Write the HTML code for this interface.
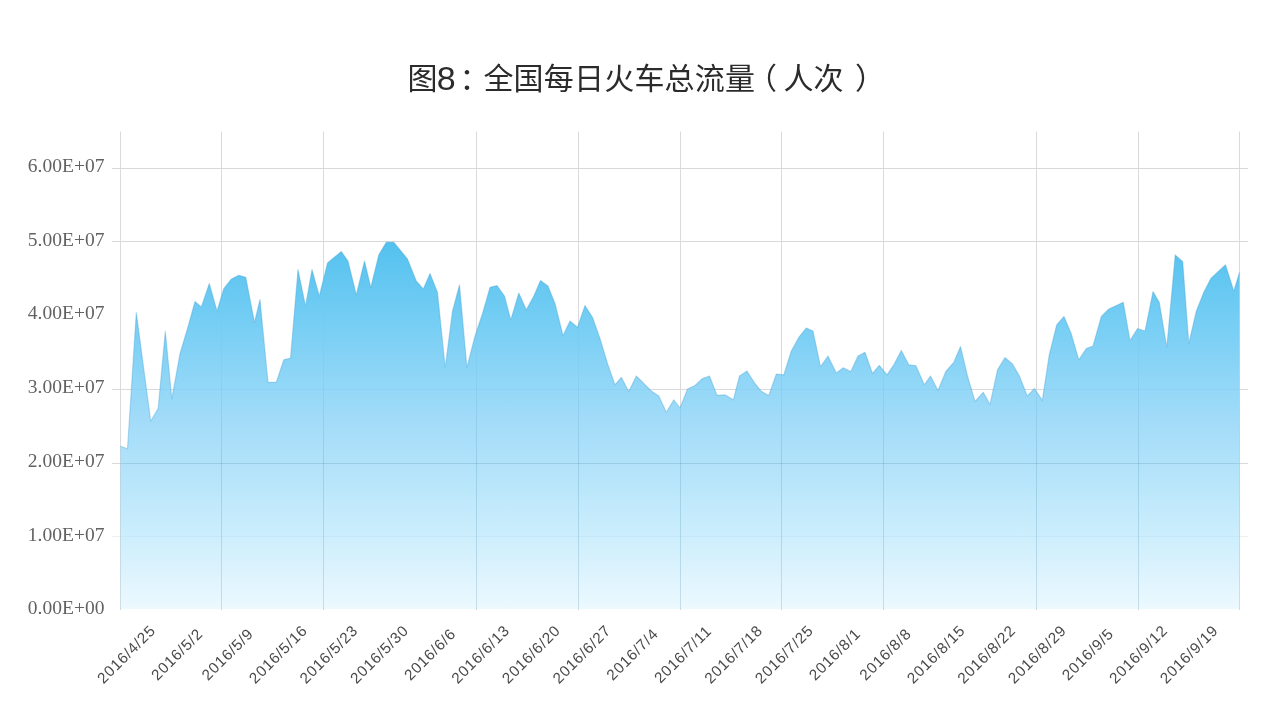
<!DOCTYPE html>
<html lang="zh-CN"><head><meta charset="utf-8"><title>图8：全国每日火车总流量（人次）</title>
<style>
html,body{margin:0;padding:0;background:#fff;}
body{width:1280px;height:720px;overflow:hidden;position:relative;}
svg{position:absolute;left:0;top:0;display:block;}
.title{font-family:"Liberation Sans","Noto Sans CJK SC",sans-serif;font-size:30px;fill:#2b2b2b;}
.t8{font-family:"Liberation Sans",sans-serif;font-size:34px;fill:#2b2b2b;}
.yl{font-family:"Liberation Serif",serif;font-size:19.5px;fill:#626262;text-anchor:end;}
.xl{font-family:"Liberation Sans",sans-serif;font-size:15.3px;letter-spacing:0.75px;fill:#4a4a4a;text-anchor:middle;}
.g{stroke:#dadada;stroke-width:1;fill:none;}
</style></head><body>
<svg width="1280" height="720" viewBox="0 0 1280 720">
<defs>
<linearGradient id="ag" gradientUnits="userSpaceOnUse" x1="0" y1="241" x2="0" y2="609.5">
<stop offset="0" stop-color="#53c1ee"/>
<stop offset="0.2225" stop-color="#76cef4"/>
<stop offset="0.494" stop-color="#a3dcf9"/>
<stop offset="0.765" stop-color="#c7ecfc"/>
<stop offset="0.955" stop-color="#e5f6fe"/>
<stop offset="1" stop-color="#edf9fe"/>
</linearGradient>
<linearGradient id="lg" gradientUnits="userSpaceOnUse" x1="0" y1="290" x2="0" y2="610">
<stop offset="0" stop-color="#005078" stop-opacity="0"/>
<stop offset="0.28" stop-color="#005078" stop-opacity="0.05"/>
<stop offset="0.53" stop-color="#005078" stop-opacity="0.14"/>
<stop offset="1" stop-color="#005078" stop-opacity="0.16"/>
</linearGradient>
<clipPath id="ac"><path d="M120.5,609.0 L120.5,446.3 127.5,448.8 136.3,312.5 150.7,421.2 158.2,408.2 165.3,331.3 171.8,398.8 180.0,353.5 187.5,328.5 195.0,301.5 201.3,307.0 209.3,283.5 217.0,311.0 223.8,288.5 231.3,279.0 238.8,275.3 245.8,277.3 254.5,322.3 260.0,299.5 268.0,382.3 276.3,382.3 283.8,359.8 290.5,358.0 298.0,269.5 305.5,306.0 312.0,269.5 319.3,296.0 327.5,263.0 334.3,257.3 341.3,251.5 348.0,261.0 356.3,294.8 364.5,261.0 370.8,287.3 378.8,254.8 386.3,242.3 393.8,242.3 400.0,249.8 407.5,259.0 416.3,281.0 423.3,289.0 430.0,273.5 437.5,292.3 445.2,367.4 452.5,311.0 459.5,284.8 466.9,367.4 475.0,336.0 482.5,313.5 490.0,287.3 497.0,285.5 504.5,296.0 510.8,319.8 518.8,293.0 526.3,309.8 533.8,296.0 540.5,280.5 548.0,286.0 555.0,303.5 563.0,335.5 570.0,321.0 577.5,327.3 585.0,305.5 592.5,317.3 600.0,338.5 607.5,363.5 615.0,384.8 621.3,377.3 628.8,391.5 636.3,376.0 643.8,383.5 651.3,391.0 658.8,396.0 666.3,412.3 673.8,399.8 680.0,408.0 687.5,389.0 695.0,385.5 702.5,378.5 709.5,376.0 717.0,395.3 725.0,394.8 733.3,399.8 739.5,376.0 747.0,371.0 755.0,383.5 761.3,391.3 768.8,395.5 776.3,374.0 783.8,374.8 791.3,351.0 798.8,337.3 806.3,328.0 813.0,331.0 820.5,366.5 828.0,356.0 836.3,373.0 843.3,367.8 850.8,371.5 858.0,356.0 865.0,352.3 872.5,373.5 879.3,365.3 887.0,374.8 893.8,364.8 901.3,350.5 908.8,364.8 915.8,365.5 924.3,384.8 930.5,376.0 938.0,390.5 945.8,371.5 953.8,362.3 960.5,346.5 967.5,376.0 975.0,401.5 983.2,392.3 990.0,404.4 997.5,369.8 1005.0,357.5 1012.5,364.0 1019.2,375.5 1027.3,396.0 1034.5,388.5 1042.3,400.3 1049.2,355.0 1056.7,324.8 1064.0,316.5 1071.0,333.0 1078.8,359.8 1086.3,348.5 1093.0,346.0 1101.3,316.5 1108.8,309.0 1116.3,305.5 1123.3,302.3 1130.0,340.5 1137.5,328.5 1145.0,331.0 1153.0,291.5 1159.3,302.3 1166.8,347.3 1175.2,254.9 1182.7,261.6 1188.8,343.5 1196.3,311.0 1203.8,292.3 1210.8,278.5 1218.8,271.0 1225.5,264.8 1233.8,291.0 1239.5,272.3 L1239.5,609.0 Z"/></clipPath>
</defs>
<rect width="1280" height="720" fill="#ffffff"/>
<g class="g">
<line x1="112" y1="168.5" x2="1248" y2="168.5" stroke="#d8d8d8"/>
<line x1="112" y1="241.5" x2="1248" y2="241.5" stroke="#d8d8d8"/>
<line x1="112" y1="389.5" x2="1248" y2="389.5" stroke="#dadada"/>
<line x1="112" y1="463.5" x2="1248" y2="463.5" stroke="#dad8d8"/>
<line x1="112" y1="536.5" x2="1248" y2="536.5" stroke="#efefef"/>
<line x1="120.5" y1="131.5" x2="120.5" y2="610"/>
<line x1="221.5" y1="131.5" x2="221.5" y2="610"/>
<line x1="323.5" y1="131.5" x2="323.5" y2="610"/>
<line x1="476.5" y1="131.5" x2="476.5" y2="610"/>
<line x1="578.5" y1="131.5" x2="578.5" y2="610"/>
<line x1="680.5" y1="131.5" x2="680.5" y2="610"/>
<line x1="781.5" y1="131.5" x2="781.5" y2="610"/>
<line x1="883.5" y1="131.5" x2="883.5" y2="610"/>
<line x1="1036.5" y1="131.5" x2="1036.5" y2="610"/>
<line x1="1138.5" y1="131.5" x2="1138.5" y2="610"/>
<line x1="1239.5" y1="131.5" x2="1239.5" y2="610"/>
</g>
<path d="M120.5,609.0 L120.5,446.3 127.5,448.8 136.3,312.5 150.7,421.2 158.2,408.2 165.3,331.3 171.8,398.8 180.0,353.5 187.5,328.5 195.0,301.5 201.3,307.0 209.3,283.5 217.0,311.0 223.8,288.5 231.3,279.0 238.8,275.3 245.8,277.3 254.5,322.3 260.0,299.5 268.0,382.3 276.3,382.3 283.8,359.8 290.5,358.0 298.0,269.5 305.5,306.0 312.0,269.5 319.3,296.0 327.5,263.0 334.3,257.3 341.3,251.5 348.0,261.0 356.3,294.8 364.5,261.0 370.8,287.3 378.8,254.8 386.3,242.3 393.8,242.3 400.0,249.8 407.5,259.0 416.3,281.0 423.3,289.0 430.0,273.5 437.5,292.3 445.2,367.4 452.5,311.0 459.5,284.8 466.9,367.4 475.0,336.0 482.5,313.5 490.0,287.3 497.0,285.5 504.5,296.0 510.8,319.8 518.8,293.0 526.3,309.8 533.8,296.0 540.5,280.5 548.0,286.0 555.0,303.5 563.0,335.5 570.0,321.0 577.5,327.3 585.0,305.5 592.5,317.3 600.0,338.5 607.5,363.5 615.0,384.8 621.3,377.3 628.8,391.5 636.3,376.0 643.8,383.5 651.3,391.0 658.8,396.0 666.3,412.3 673.8,399.8 680.0,408.0 687.5,389.0 695.0,385.5 702.5,378.5 709.5,376.0 717.0,395.3 725.0,394.8 733.3,399.8 739.5,376.0 747.0,371.0 755.0,383.5 761.3,391.3 768.8,395.5 776.3,374.0 783.8,374.8 791.3,351.0 798.8,337.3 806.3,328.0 813.0,331.0 820.5,366.5 828.0,356.0 836.3,373.0 843.3,367.8 850.8,371.5 858.0,356.0 865.0,352.3 872.5,373.5 879.3,365.3 887.0,374.8 893.8,364.8 901.3,350.5 908.8,364.8 915.8,365.5 924.3,384.8 930.5,376.0 938.0,390.5 945.8,371.5 953.8,362.3 960.5,346.5 967.5,376.0 975.0,401.5 983.2,392.3 990.0,404.4 997.5,369.8 1005.0,357.5 1012.5,364.0 1019.2,375.5 1027.3,396.0 1034.5,388.5 1042.3,400.3 1049.2,355.0 1056.7,324.8 1064.0,316.5 1071.0,333.0 1078.8,359.8 1086.3,348.5 1093.0,346.0 1101.3,316.5 1108.8,309.0 1116.3,305.5 1123.3,302.3 1130.0,340.5 1137.5,328.5 1145.0,331.0 1153.0,291.5 1159.3,302.3 1166.8,347.3 1175.2,254.9 1182.7,261.6 1188.8,343.5 1196.3,311.0 1203.8,292.3 1210.8,278.5 1218.8,271.0 1225.5,264.8 1233.8,291.0 1239.5,272.3 L1239.5,609.0 Z" fill="url(#ag)"/>
<polyline points="120.5,446.3 127.5,448.8 136.3,312.5 150.7,421.2 158.2,408.2 165.3,331.3 171.8,398.8 180.0,353.5 187.5,328.5 195.0,301.5 201.3,307.0 209.3,283.5 217.0,311.0 223.8,288.5 231.3,279.0 238.8,275.3 245.8,277.3 254.5,322.3 260.0,299.5 268.0,382.3 276.3,382.3 283.8,359.8 290.5,358.0 298.0,269.5 305.5,306.0 312.0,269.5 319.3,296.0 327.5,263.0 334.3,257.3 341.3,251.5 348.0,261.0 356.3,294.8 364.5,261.0 370.8,287.3 378.8,254.8 386.3,242.3 393.8,242.3 400.0,249.8 407.5,259.0 416.3,281.0 423.3,289.0 430.0,273.5 437.5,292.3 445.2,367.4 452.5,311.0 459.5,284.8 466.9,367.4 475.0,336.0 482.5,313.5 490.0,287.3 497.0,285.5 504.5,296.0 510.8,319.8 518.8,293.0 526.3,309.8 533.8,296.0 540.5,280.5 548.0,286.0 555.0,303.5 563.0,335.5 570.0,321.0 577.5,327.3 585.0,305.5 592.5,317.3 600.0,338.5 607.5,363.5 615.0,384.8 621.3,377.3 628.8,391.5 636.3,376.0 643.8,383.5 651.3,391.0 658.8,396.0 666.3,412.3 673.8,399.8 680.0,408.0 687.5,389.0 695.0,385.5 702.5,378.5 709.5,376.0 717.0,395.3 725.0,394.8 733.3,399.8 739.5,376.0 747.0,371.0 755.0,383.5 761.3,391.3 768.8,395.5 776.3,374.0 783.8,374.8 791.3,351.0 798.8,337.3 806.3,328.0 813.0,331.0 820.5,366.5 828.0,356.0 836.3,373.0 843.3,367.8 850.8,371.5 858.0,356.0 865.0,352.3 872.5,373.5 879.3,365.3 887.0,374.8 893.8,364.8 901.3,350.5 908.8,364.8 915.8,365.5 924.3,384.8 930.5,376.0 938.0,390.5 945.8,371.5 953.8,362.3 960.5,346.5 967.5,376.0 975.0,401.5 983.2,392.3 990.0,404.4 997.5,369.8 1005.0,357.5 1012.5,364.0 1019.2,375.5 1027.3,396.0 1034.5,388.5 1042.3,400.3 1049.2,355.0 1056.7,324.8 1064.0,316.5 1071.0,333.0 1078.8,359.8 1086.3,348.5 1093.0,346.0 1101.3,316.5 1108.8,309.0 1116.3,305.5 1123.3,302.3 1130.0,340.5 1137.5,328.5 1145.0,331.0 1153.0,291.5 1159.3,302.3 1166.8,347.3 1175.2,254.9 1182.7,261.6 1188.8,343.5 1196.3,311.0 1203.8,292.3 1210.8,278.5 1218.8,271.0 1225.5,264.8 1233.8,291.0 1239.5,272.3" fill="none" stroke="#3f9fd0" stroke-opacity="0.35" stroke-width="1.2" stroke-linejoin="round"/>
<g clip-path="url(#ac)" fill="none" stroke-width="1">
<line x1="112" y1="389.5" x2="1248" y2="389.5" stroke="#005078" stroke-opacity="0.04"/>
<line x1="112" y1="463.5" x2="1248" y2="463.5" stroke="#005078" stroke-opacity="0.14"/>
<line x1="112" y1="536.5" x2="1248" y2="536.5" stroke="#005078" stroke-opacity="0.03"/>
<line x1="120.5" y1="131.5" x2="120.5" y2="610" stroke="url(#lg)"/>
<line x1="221.5" y1="131.5" x2="221.5" y2="610" stroke="url(#lg)"/>
<line x1="323.5" y1="131.5" x2="323.5" y2="610" stroke="url(#lg)"/>
<line x1="476.5" y1="131.5" x2="476.5" y2="610" stroke="url(#lg)"/>
<line x1="578.5" y1="131.5" x2="578.5" y2="610" stroke="url(#lg)"/>
<line x1="680.5" y1="131.5" x2="680.5" y2="610" stroke="url(#lg)"/>
<line x1="781.5" y1="131.5" x2="781.5" y2="610" stroke="url(#lg)"/>
<line x1="883.5" y1="131.5" x2="883.5" y2="610" stroke="url(#lg)"/>
<line x1="1036.5" y1="131.5" x2="1036.5" y2="610" stroke="url(#lg)"/>
<line x1="1138.5" y1="131.5" x2="1138.5" y2="610" stroke="url(#lg)"/>
<line x1="1239.5" y1="131.5" x2="1239.5" y2="610" stroke="url(#lg)"/>
</g>
<text class="yl" x="104.4" y="171.9">6.00E+07</text>
<text class="yl" x="104.4" y="245.6">5.00E+07</text>
<text class="yl" x="104.4" y="319.3">4.00E+07</text>
<text class="yl" x="104.4" y="393.1">3.00E+07</text>
<text class="yl" x="104.4" y="466.8">2.00E+07</text>
<text class="yl" x="104.4" y="540.5">1.00E+07</text>
<text class="yl" x="104.4" y="614.2">0.00E+00</text>
<text class="xl" transform="translate(125.90,654.3) rotate(-45)" x="0.3" y="5.5">2016/4/25</text>
<text class="xl" transform="translate(176.50,654.3) rotate(-45)" x="0.3" y="5.5">2016/5/2</text>
<text class="xl" transform="translate(227.10,654.3) rotate(-45)" x="0.3" y="5.5">2016/5/9</text>
<text class="xl" transform="translate(277.70,654.3) rotate(-45)" x="0.3" y="5.5">2016/5/16</text>
<text class="xl" transform="translate(328.30,654.3) rotate(-45)" x="0.3" y="5.5">2016/5/23</text>
<text class="xl" transform="translate(378.90,654.3) rotate(-45)" x="0.3" y="5.5">2016/5/30</text>
<text class="xl" transform="translate(429.50,654.3) rotate(-45)" x="0.3" y="5.5">2016/6/6</text>
<text class="xl" transform="translate(480.10,654.3) rotate(-45)" x="0.3" y="5.5">2016/6/13</text>
<text class="xl" transform="translate(530.70,654.3) rotate(-45)" x="0.3" y="5.5">2016/6/20</text>
<text class="xl" transform="translate(581.30,654.3) rotate(-45)" x="0.3" y="5.5">2016/6/27</text>
<text class="xl" transform="translate(631.90,654.3) rotate(-45)" x="0.3" y="5.5">2016/7/4</text>
<text class="xl" transform="translate(682.50,654.3) rotate(-45)" x="0.3" y="5.5">2016/7/11</text>
<text class="xl" transform="translate(733.10,654.3) rotate(-45)" x="0.3" y="5.5">2016/7/18</text>
<text class="xl" transform="translate(783.70,654.3) rotate(-45)" x="0.3" y="5.5">2016/7/25</text>
<text class="xl" transform="translate(834.30,654.3) rotate(-45)" x="0.3" y="5.5">2016/8/1</text>
<text class="xl" transform="translate(884.90,654.3) rotate(-45)" x="0.3" y="5.5">2016/8/8</text>
<text class="xl" transform="translate(935.50,654.3) rotate(-45)" x="0.3" y="5.5">2016/8/15</text>
<text class="xl" transform="translate(986.10,654.3) rotate(-45)" x="0.3" y="5.5">2016/8/22</text>
<text class="xl" transform="translate(1036.70,654.3) rotate(-45)" x="0.3" y="5.5">2016/8/29</text>
<text class="xl" transform="translate(1087.30,654.3) rotate(-45)" x="0.3" y="5.5">2016/9/5</text>
<text class="xl" transform="translate(1137.90,654.3) rotate(-45)" x="0.3" y="5.5">2016/9/12</text>
<text class="xl" transform="translate(1188.50,654.3) rotate(-45)" x="0.3" y="5.5">2016/9/19</text>
<text class="title" x="407.5" y="88.5">图</text>
<text class="t8" x="436.8" y="89.6">8</text>
<text class="title" x="459.5" y="88.5">：</text>
<text class="title" x="483.4" y="88.5" letter-spacing="0.2">全国每日火车总流量</text>
<text class="title" x="747" y="88.5">（</text>
<text class="title" x="783.5" y="88.5">人次</text>
<text class="title" x="855" y="88.5">）</text>
</svg></body></html>
